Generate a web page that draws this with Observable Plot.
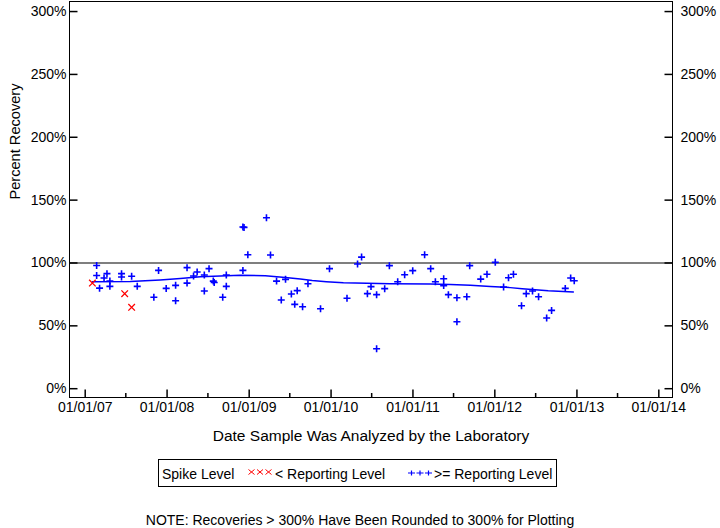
<!DOCTYPE html>
<html><head><meta charset="utf-8">
<script src="https://cdn.jsdelivr.net/npm/d3@7"></script>
<script src="https://cdn.jsdelivr.net/npm/@observablehq/plot@0.6"></script>
<style>
body{margin:0;background:#fff;font-family:"Liberation Sans",Arial,sans-serif;color:#000;}
#wrap{position:relative;width:720px;height:528px;overflow:hidden;}
#chart{position:absolute;left:0;top:0;}
.abs{position:absolute;white-space:nowrap;font-size:14px;line-height:16px;}
#legend{position:absolute;left:158px;top:459px;width:397px;height:26px;border:1px solid #000;}
svg.lg{position:absolute;overflow:visible;}
</style></head><body>
<div id="wrap">
  <div id="chart"></div>
  <div id="legend"></div>
  <div class="abs" style="left:162px;top:466px;">Spike Level</div>
  <svg class="lg" style="left:248px;top:469px;" width="25" height="8">
    <path d="M0.5,0.5L6.5,5.5M0.5,5.5L6.5,0.5M9,0.5L15,5.5M9,5.5L15,0.5M17.5,0.5L23.5,5.5M17.5,5.5L23.5,0.5" stroke="#ff0000" stroke-width="1" fill="none"/>
  </svg>
  <div class="abs" style="left:275px;top:466px;">&lt; Reporting Level</div>
  <svg class="lg" style="left:407px;top:470px;" width="26" height="8">
    <path d="M1,3L8,3M4.5,0.5L4.5,5.5M9.5,3L16.5,3M13,0.5L13,5.5M18,3L25,3M21.5,0.5L21.5,5.5" stroke="#0000ff" stroke-width="1.2" fill="none"/>
  </svg>
  <div class="abs" style="left:434px;top:466px;">&gt;= Reporting Level</div>
  <div class="abs" style="left:0;width:720px;text-align:center;top:512px;">NOTE: Recoveries &gt; 300% Have Been Rounded to 300% for Plotting</div>
</div>
<script>
// ---- data ----
const belowDates = ["2007-02-02", "2007-06-26", "2007-07-27"];
const belowValues = [84, 75.6, 64.7];

const reportDates = [
  "2007-02-21","2007-02-21","2007-03-06","2007-03-26","2007-04-08","2007-04-21","2007-04-21",
  "2007-06-12","2007-06-12","2007-07-27","2007-08-21","2007-11-03","2007-11-24","2007-12-28",
  "2008-02-08","2008-02-08","2008-03-30","2008-03-30","2008-04-28","2008-05-14","2008-06-15",
  "2008-06-15","2008-07-06","2008-07-25","2008-07-29","2008-09-05","2008-09-21","2008-09-21",
  "2008-12-04","2008-12-09","2008-12-04","2008-12-26","2009-03-19","2009-04-06","2009-05-03",
  "2009-05-24","2009-06-12","2009-07-08","2009-07-23","2009-08-03","2009-08-27","2009-09-20",
  "2009-11-15","2009-12-25","2010-03-13","2010-04-29","2010-05-17","2010-06-12","2010-06-28",
  "2010-07-23","2010-07-23","2010-08-28","2010-09-18","2010-10-25","2010-11-25","2010-12-31",
  "2011-02-22","2011-03-21","2011-04-11","2011-05-18","2011-05-18","2011-06-08","2011-07-16",
  "2011-07-16","2011-08-29","2011-09-11","2011-10-30","2011-11-27","2012-01-03","2012-02-09",
  "2012-03-02","2012-03-24","2012-04-29","2012-05-20","2012-06-17","2012-07-14","2012-08-19",
  "2012-09-10","2012-11-10","2012-12-04","2012-12-20"
];
const reportValues = [
  98, 90, 80, 88, 91.5, 85.6, 81.4,
  91.5, 88.8, 89.4, 81.4, 72.7, 94.1, 79.8,
  82.2, 70, 96.3, 84, 89.6, 92.8, 90.4,
  77.7, 95.5, 85.6, 84.5, 72.7, 90.4, 81.4,
  128.6, 128.3, 94.1, 106.6, 136, 106.3, 85.6,
  70.5, 87, 75.3, 67.1, 78, 65.2, 83.5,
  63.6, 95.5, 71.9, 99.2, 104.7, 75.6, 81.2,
  74.8, 31.8, 79.6, 97.9, 85.1, 90.7, 93.9,
  106.6, 95.5, 85.1, 87.5, 82, 74.8, 72.4,
  53.3, 73.2, 97.9, 87.2, 91, 100.5, 80.8,
  88.3, 91, 66, 75.6, 77.7, 73.2, 56.2,
  62.3, 79.8, 88.1, 85.9
];

const trendDates = ["2007-02-02","2007-07-21","2007-12-01","2008-02-29","2008-05-28","2008-11-22",
  "2009-03-14","2009-06-11","2009-08-17","2009-10-09","2009-12-11","2010-02-25","2010-09-22",
  "2011-03-19","2011-06-17","2011-09-14","2011-12-12","2012-03-10","2012-05-02","2012-06-29",
  "2012-08-26","2012-12-16"];
const trendValues = [85.1, 85.3, 86.5, 87.6, 89, 90.2,
  89.8, 88.5, 87.2, 86, 85.1, 84.3, 83.5,
  83.2, 82.8, 82.2, 81.3, 80.4, 79.6, 78.8,
  78, 77];

const yTicks = [0, 50, 100, 150, 200, 250, 300];
const xTickDates = ["2007-01-01","2008-01-01","2009-01-01","2010-01-01","2011-01-01","2012-01-01","2013-01-01","2014-01-01"];
const xMinorDates = ["2007-07-01","2008-07-01","2009-07-01","2010-07-01","2011-07-01","2012-07-01","2013-07-01"];
const xDomain = ["2006-10-23", "2014-03-03"];
const yDomain = [-7, 308];

// ---- build ----
const parse = d3.utcParse("%Y-%m-%d");
const fmt = d3.utcFormat("%m/%d/%y");
const below = belowDates.map((d, i) => ({date: parse(d), value: belowValues[i]}));
const report = reportDates.map((d, i) => ({date: parse(d), value: reportValues[i]}));
const trend = trendDates.map((d, i) => ({date: parse(d), value: trendValues[i]}));
const majors = xTickDates.map(parse);
const minors = xMinorDates.map(parse);

const plusSym = {draw(c){const r = 3.5; c.moveTo(-r,0); c.lineTo(r,0); c.moveTo(0,-r); c.lineTo(0,r);}};
const timesSym = {draw(c){const r = 3.3; c.moveTo(-r,-r); c.lineTo(r,r); c.moveTo(-r,r); c.lineTo(r,-r);}};
const tickIntoRight = {draw(c){c.moveTo(0,0); c.lineTo(8,0);}};
const tickIntoLeft = {draw(c){c.moveTo(0,0); c.lineTo(-8,0);}};
const tickUpMajor = {draw(c){c.moveTo(0,0); c.lineTo(0,-8);}};
const tickUpMinor = {draw(c){c.moveTo(0,0); c.lineTo(0,-4.5);}};

const chart = Plot.plot({
  width: 720,
  height: 452,
  marginLeft: 69,
  marginRight: 48,
  marginTop: 1,
  marginBottom: 55,
  style: {fontFamily: "Liberation Sans, Arial, sans-serif", fontSize: "14px", background: "white", overflow: "visible"},
  x: {type: "utc", domain: xDomain.map(parse), axis: null},
  y: {domain: yDomain, axis: null},
  marks: [
    Plot.frame({stroke: "black"}),
    Plot.ruleY([100], {stroke: "black", strokeWidth: 1.2}),
    Plot.dot(yTicks, {y: d => d, frameAnchor: "left", symbol: tickIntoRight, stroke: "black", fill: "none"}),
    Plot.dot(yTicks, {y: d => d, frameAnchor: "right", symbol: tickIntoLeft, stroke: "black", fill: "none"}),
    Plot.text(yTicks, {y: d => d, frameAnchor: "left", text: d => d + "%", textAnchor: "end", dx: -3, fontSize: 14, fill: "black"}),
    Plot.text(yTicks, {y: d => d, frameAnchor: "right", text: d => d + "%", textAnchor: "start", dx: 8, fontSize: 14, fill: "black"}),
    Plot.dot(majors, {x: d => d, frameAnchor: "bottom", symbol: tickUpMajor, stroke: "black", fill: "none"}),
    Plot.dot(minors, {x: d => d, frameAnchor: "bottom", symbol: tickUpMinor, stroke: "black", fill: "none"}),
    Plot.text(majors, {x: d => d, frameAnchor: "bottom", text: d => fmt(d), dy: 14.5, fontSize: 14, fill: "black"}),
    Plot.text(["Date Sample Was Analyzed by the Laboratory"], {text: d => d, frameAnchor: "bottom", dy: 43, fontSize: 15.5, fill: "black"}),
    Plot.text(["Percent Recovery"], {text: d => d, frameAnchor: "left", rotate: -90, dx: -54, fontSize: 14.6, fill: "black"}),
    Plot.line(trend, {x: "date", y: "value", stroke: "#0000ff", strokeWidth: 1.5}),
    Plot.dot(below, {x: "date", y: "value", symbol: timesSym, stroke: "#ff0000", fill: "none", strokeWidth: 1.3}),
    Plot.dot(report, {x: "date", y: "value", symbol: plusSym, stroke: "#0000ff", fill: "none", strokeWidth: 1.6})
  ]
});
document.getElementById("chart").appendChild(chart);
</script>
</body></html>
